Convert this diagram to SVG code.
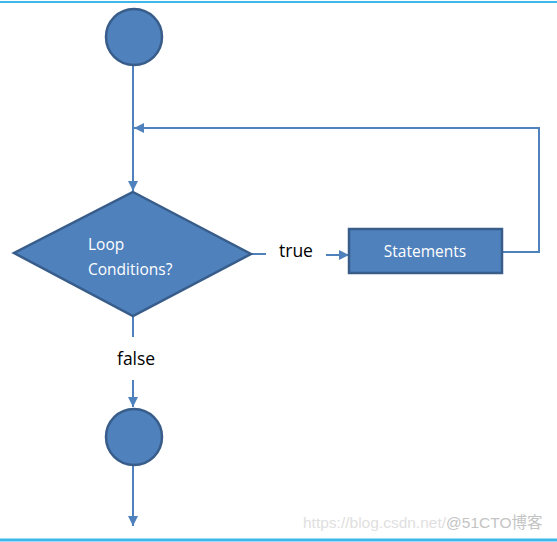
<svg xmlns="http://www.w3.org/2000/svg" width="557" height="542" viewBox="0 0 557 542">
<defs>
<style>
.shape{fill:#4F81BD;stroke:#385D8A;stroke-width:2.5}
.conn{fill:none;stroke:#4F81BD;stroke-width:2}
.lbl{font-family:"Open Sans","Liberation Sans",sans-serif;font-size:15.5px;fill:#fff}
.edge{font-family:"Open Sans","Liberation Sans",sans-serif;font-size:17.5px;fill:#000}
</style>
<marker id="arr" viewBox="0 0 10 10" refX="10" refY="5" markerWidth="5" markerHeight="5" markerUnits="strokeWidth" orient="auto">
<path d="M0,0 L10,5 L0,10 z" fill="#4F81BD"/>
</marker>
</defs>
<rect width="557" height="542" fill="#fff"/>
<line x1="0" y1="2" x2="557" y2="2" stroke="#3DB8EA" stroke-width="2"/>
<line x1="0" y1="540" x2="557" y2="540" stroke="#3DB8EA" stroke-width="3"/>
<g id="connectors">
<line class="conn" x1="133" y1="66" x2="133" y2="191" marker-end="url(#arr)"/>
<polyline class="conn" points="502,252 539,252 539,128 134,128" marker-end="url(#arr)"/>
<line class="conn" x1="250" y1="254" x2="266" y2="254"/>
<line class="conn" x1="326" y1="255" x2="349" y2="255" marker-end="url(#arr)"/>
<line class="conn" x1="133" y1="316" x2="133" y2="337"/>
<line class="conn" x1="133" y1="380" x2="133" y2="407" marker-end="url(#arr)"/>
<line class="conn" x1="133" y1="466" x2="133" y2="526" marker-end="url(#arr)"/>
<text class="edge" x="279" y="257">true</text>
<text class="edge" x="117" y="365">false</text>
</g>
<g id="start">
<circle class="shape" cx="134" cy="37" r="28"/>
</g>
<g id="condition">
<polygon class="shape" points="133,192 251,254 133,316 14,253"/>
<text class="lbl" x="88" y="250">Loop</text>
<text class="lbl" x="88" y="275">Conditions?</text>
</g>
<g id="statements">
<rect class="shape" x="349" y="229" width="153" height="44"/>
<text class="lbl" x="425" y="257" text-anchor="middle">Statements</text>
</g>
<g id="end">
<circle class="shape" cx="134" cy="437" r="28"/>
</g>
<text x="303" y="528" font-family="'Liberation Sans','Noto Sans CJK SC',sans-serif" font-size="15.5" fill="#e0e0e0">https://blog.csdn.net/<tspan fill="#c4c4c4">@51CTO博客</tspan></text>
</svg>
